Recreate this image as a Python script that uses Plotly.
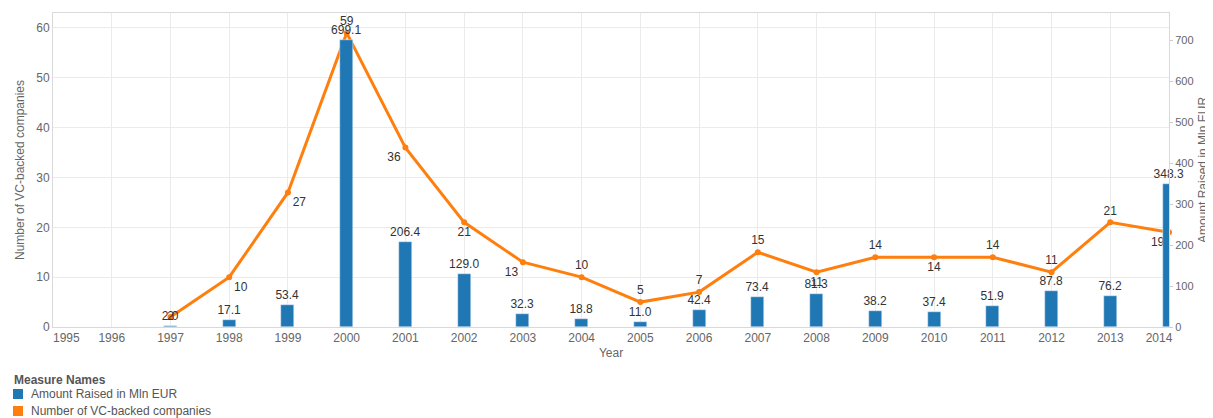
import plotly.graph_objects as go

years = list(range(1995, 2015))
amount = [None, None, 2.0, 17.1, 53.4, 699.1, 206.4, 129.0, 32.3, 18.8, 11.0, 42.4,
          73.4, 81.3, 38.2, 37.4, 51.9, 87.8, 76.2, 348.3]
companies = [None, None, 2, 10, 27, 59, 36, 21, 13, 10, 5, 7, 15, 11, 14, 14, 14, 11, 21, 19]
line_label_pos = ["top center", "top center", "middle center", "bottom right", "bottom right",
                  "top center", "bottom left", "bottom center", "bottom left", "top center",
                  "top center", "top center", "top center", "bottom center", "top center",
                  "bottom center", "top center", "top center", "top center", "bottom left"]
legend_title = "Measure Names"
legend_names = ["Amount Raised in Mln EUR", "Number of VC-backed companies"]

BLUE = "#1F77B4"
ORANGE = "#FF7F0E"
FONT = "Liberation Sans, Arial, sans-serif"

OFF = 8  # page body margin
W, H = 1213 - OFF, 418 - OFF
ML, MR, MT, MB = 45, 44, 5, 91
PW, PH = W - ML - MR, H - MT - MB


def px(x):
    return (x - OFF - ML) / PW


def py(y):
    return (H - MB - (y - OFF)) / PH


# edge tick labels are kept inside the plot, as in the original
NB = "\u00a0"
tick_text = [str(y) for y in years]
tick_text[0] = NB * 8 + tick_text[0]
tick_text[-1] = tick_text[-1] + NB * 6

fig = go.Figure()
fig.add_trace(go.Bar(
    x=years, y=amount, yaxis="y2", marker_color=BLUE, width=0.22,
    text=[None if v is None else f"{v:.1f}" for v in amount],
    textposition="outside", cliponaxis=False, constraintext="none",
    textfont=dict(size=12, color="#333333", family=FONT),
    showlegend=False, name=legend_names[0]))
fig.add_trace(go.Scatter(
    x=years, y=companies, mode="lines+markers+text",
    line=dict(color=ORANGE, width=3), marker=dict(color=ORANGE, size=6),
    text=[None if v is None else str(v) for v in companies],
    textposition=line_label_pos, cliponaxis=False,
    textfont=dict(size=12, color="#333333", family=FONT),
    showlegend=False, name=legend_names[1]))

# manual legend (Tableau style)
annotations = [dict(text="<b>" + legend_title + "</b>", xref="paper", yref="paper",
                    x=px(12), y=py(380), xanchor="left", yanchor="middle", showarrow=False,
                    font=dict(size=12, color="#555555", family=FONT))]
shapes = []
for i, (nm, col) in enumerate(zip(legend_names, [BLUE, ORANGE])):
    cy = 394 + i * 17
    shapes.append(dict(type="rect", xref="paper", yref="paper",
                       x0=px(13), x1=px(23), y0=py(cy - 5), y1=py(cy + 5),
                       fillcolor=col, line=dict(width=0)))
    annotations.append(dict(text=nm, xref="paper", yref="paper", x=px(29), y=py(cy),
                            xanchor="left", yanchor="middle", showarrow=False,
                            font=dict(size=12, color="#555555", family=FONT)))
# right axis title
annotations.append(dict(text="Amount Raised in Mln EUR", xref="paper", yref="paper",
                        x=px(1203), y=0.5, xanchor="center", yanchor="middle",
                        textangle=-90, showarrow=False,
                        font=dict(size=12, color="#666666", family=FONT)))

grid = "#ebebeb"
fig.update_layout(
    width=W, height=H,
    margin=dict(l=ML, r=MR, t=MT, b=MB, autoexpand=False),
    plot_bgcolor="white", paper_bgcolor="white",
    font=dict(family=FONT, size=12, color="#666666"),
    bargap=0, showlegend=False,
    annotations=annotations, shapes=shapes,
    xaxis=dict(range=[1995, 2014], tickmode="array", tickvals=years, ticktext=tick_text,
               showgrid=True, gridcolor=grid, showline=True, linecolor="#d9d9d9",
               mirror=True, ticks="", zeroline=False,
               title=dict(text="Year", font=dict(size=12, color="#666666"), standoff=4),
               tickfont=dict(size=12, color="#666666")),
    yaxis=dict(range=[0, 63], tickvals=[0, 10, 20, 30, 40, 50, 60],
               showgrid=True, gridcolor=grid, zeroline=False,
               showline=True, linecolor="#d9d9d9", mirror=True,
               title=dict(text="Number of VC-backed companies", font=dict(size=12, color="#666666"), standoff=9),
               tickfont=dict(size=12, color="#666666")),
    yaxis2=dict(range=[0, 766], overlaying="y", side="right",
                tickvals=[0, 100, 200, 300, 400, 500, 600, 700],
                showgrid=False, zeroline=False, ticks="outside", ticklen=3,
                tickcolor="#cccccc", showline=False,
                tickfont=dict(size=11, color="#666666")),
)
fig.write_html("out.html")
